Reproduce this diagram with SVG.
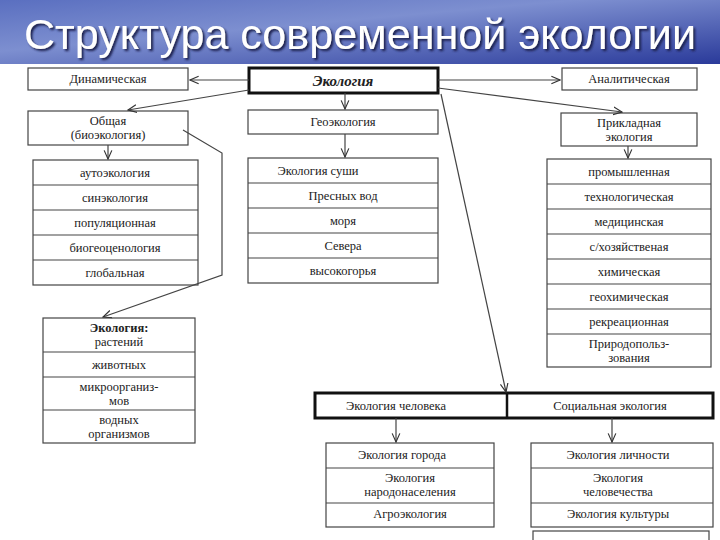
<svg xmlns="http://www.w3.org/2000/svg" width="720" height="540" viewBox="0 0 720 540">
<defs>
<linearGradient id="sky" x1="0" y1="0" x2="1" y2="1">
<stop offset="0" stop-color="#5a6fc0"/><stop offset="0.4" stop-color="#7d8fd0"/><stop offset="1" stop-color="#2a3a9a"/>
</linearGradient>
<filter id="sh" x="-5%" y="-20%" width="110%" height="140%"><feDropShadow dx="2" dy="2" stdDeviation="1" flood-color="#1a2050"/></filter>
<marker id="a" viewBox="0 0 10 10" refX="9" refY="5" markerWidth="8" markerHeight="8" orient="auto"><path d="M0,1 L9,5 L0,9" fill="none" stroke="#333" stroke-width="1.2"/></marker>
<style>
.b{fill:#fff;stroke:#444;stroke-width:1.2}
.k{fill:#fff;stroke:#111;stroke-width:3}
.l{stroke:#444;stroke-width:1.2}
.t text{font-size:12.5px;fill:#222;text-anchor:middle}
.c path,.c line,.c polyline{fill:none;stroke:#444;stroke-width:1.2}
</style>
</defs>
<rect width="720" height="540" fill="#fff"/>
<rect width="720" height="64" fill="url(#sky)"/>
<text x="360" y="49" font-family="Liberation Sans Narrow, Liberation Sans, sans-serif" font-size="42" fill="#fff" text-anchor="middle" filter="url(#sh)" textLength="672" lengthAdjust="spacingAndGlyphs">Структура современной экологии</text>
<g class="t" font-family="Liberation Serif, DejaVu Serif, serif">
<g id="ecology"><rect class="k" x="249" y="68" width="189" height="25"/><text x="343" y="86" font-weight="bold" font-style="italic" style="font-size:15px">Экология</text></g>
<g id="dyn"><rect class="b" x="28" y="68" width="160" height="22"/><text x="108" y="83">Динамическая</text></g>
<g id="anal"><rect class="b" x="562" y="68" width="135" height="22"/><text x="629" y="83">Аналитическая</text></g>
<g id="general"><rect class="b" x="28" y="111" width="160" height="34"/><text x="108" y="125">Общая</text><text x="108" y="139">(биоэкология)</text></g>
<g id="geo"><rect class="b" x="248" y="110" width="190" height="24"/><text x="343" y="126">Геоэкология</text></g>
<g id="applied"><rect class="b" x="561" y="113" width="136" height="33"/><text x="629" y="127">Прикладная</text><text x="629" y="141">экология</text></g>

<g id="left-list"><rect class="b" x="33" y="160" width="165" height="125"/>
<line class="l" x1="33" y1="185" x2="198" y2="185"/><line class="l" x1="33" y1="210" x2="198" y2="210"/><line class="l" x1="33" y1="235" x2="198" y2="235"/><line class="l" x1="33" y1="260" x2="198" y2="260"/>
<text x="115" y="177">аутоэкология</text><text x="115" y="202">синэкология</text><text x="115" y="227">популяционная</text><text x="115" y="252">биогеоценология</text><text x="115" y="277">глобальная</text></g>

<g id="mid-list"><rect class="b" x="248" y="158" width="190" height="125"/>
<line class="l" x1="248" y1="183" x2="438" y2="183"/><line class="l" x1="248" y1="208" x2="438" y2="208"/><line class="l" x1="248" y1="233" x2="438" y2="233"/><line class="l" x1="248" y1="258" x2="438" y2="258"/>
<text x="318" y="175">Экология суши</text><text x="343" y="200">Пресных вод</text><text x="343" y="225">моря</text><text x="343" y="250">Севера</text><text x="343" y="275">высокогорья</text></g>

<g id="right-list"><rect class="b" x="547" y="159" width="164" height="208"/>
<line class="l" x1="547" y1="184" x2="711" y2="184"/><line class="l" x1="547" y1="209" x2="711" y2="209"/><line class="l" x1="547" y1="234" x2="711" y2="234"/><line class="l" x1="547" y1="259" x2="711" y2="259"/><line class="l" x1="547" y1="284" x2="711" y2="284"/><line class="l" x1="547" y1="309" x2="711" y2="309"/><line class="l" x1="547" y1="334" x2="711" y2="334"/>
<text x="629" y="176">промышленная</text><text x="629" y="201">технологическая</text><text x="629" y="226">медицинская</text><text x="629" y="251">с/хозяйственая</text><text x="629" y="276">химическая</text><text x="629" y="301">геохимическая</text><text x="629" y="326">рекреационная</text><text x="629" y="348">Природопольз-</text><text x="629" y="362">зования</text></g>

<g id="organisms"><rect class="b" x="43" y="318" width="152" height="125"/>
<line class="l" x1="43" y1="352" x2="195" y2="352"/><line class="l" x1="43" y1="377" x2="195" y2="377"/><line class="l" x1="43" y1="410" x2="195" y2="410"/>
<text x="119" y="332" font-weight="bold">Экология:</text><text x="119" y="346">растений</text><text x="119" y="369">животных</text><text x="119" y="391">микроорганиз-</text><text x="119" y="405">мов</text><text x="119" y="424">водных</text><text x="119" y="438">организмов</text></g>

<g id="human-social"><rect class="k" x="315" y="393" width="398" height="25"/><line x1="507" y1="393" x2="507" y2="418" stroke="#111" stroke-width="2.5"/>
<text x="396" y="410">Экология человека</text><text x="610" y="410">Социальная экология</text></g>

<g id="human-list"><rect class="b" x="326" y="443" width="168" height="84"/>
<line class="l" x1="326" y1="468" x2="494" y2="468"/><line class="l" x1="326" y1="503" x2="494" y2="503"/>
<text x="402" y="459">Экология города</text><text x="410" y="482">Экология</text><text x="410" y="496">народонаселения</text><text x="410" y="518">Агроэкология</text></g>

<g id="social-list"><rect class="b" x="531" y="443" width="182" height="84"/>
<line class="l" x1="531" y1="468" x2="713" y2="468"/><line class="l" x1="531" y1="503" x2="713" y2="503"/>
<text x="618" y="459">Экология личности</text><text x="618" y="482">Экология</text><text x="618" y="496">человечества</text><text x="618" y="518">Экология культуры</text></g>
<g id="cut-box"><rect class="b" x="533" y="531" width="176" height="20"/></g>
</g>
<g class="c" id="connectors">
<line x1="249" y1="80" x2="190" y2="80" marker-end="url(#a)"/>
<line x1="438" y1="80" x2="560" y2="80" marker-end="url(#a)"/>
<line x1="249" y1="90" x2="128" y2="110" marker-end="url(#a)"/>
<line x1="345" y1="93" x2="345" y2="109" marker-end="url(#a)"/>
<line x1="438" y1="88" x2="622" y2="112" marker-end="url(#a)"/>
<line x1="441" y1="94" x2="506" y2="392" marker-end="url(#a)"/>
<line x1="108" y1="145" x2="108" y2="159" marker-end="url(#a)"/>
<polyline points="183,130 222,153 222,275 103,317" marker-end="url(#a)"/>
<line x1="345" y1="134" x2="345" y2="157" marker-end="url(#a)"/>
<line x1="628" y1="146" x2="628" y2="158" marker-end="url(#a)"/>
<line x1="396" y1="418" x2="396" y2="442" marker-end="url(#a)"/>
<line x1="612" y1="418" x2="612" y2="442" marker-end="url(#a)"/>
</g>
</svg>
